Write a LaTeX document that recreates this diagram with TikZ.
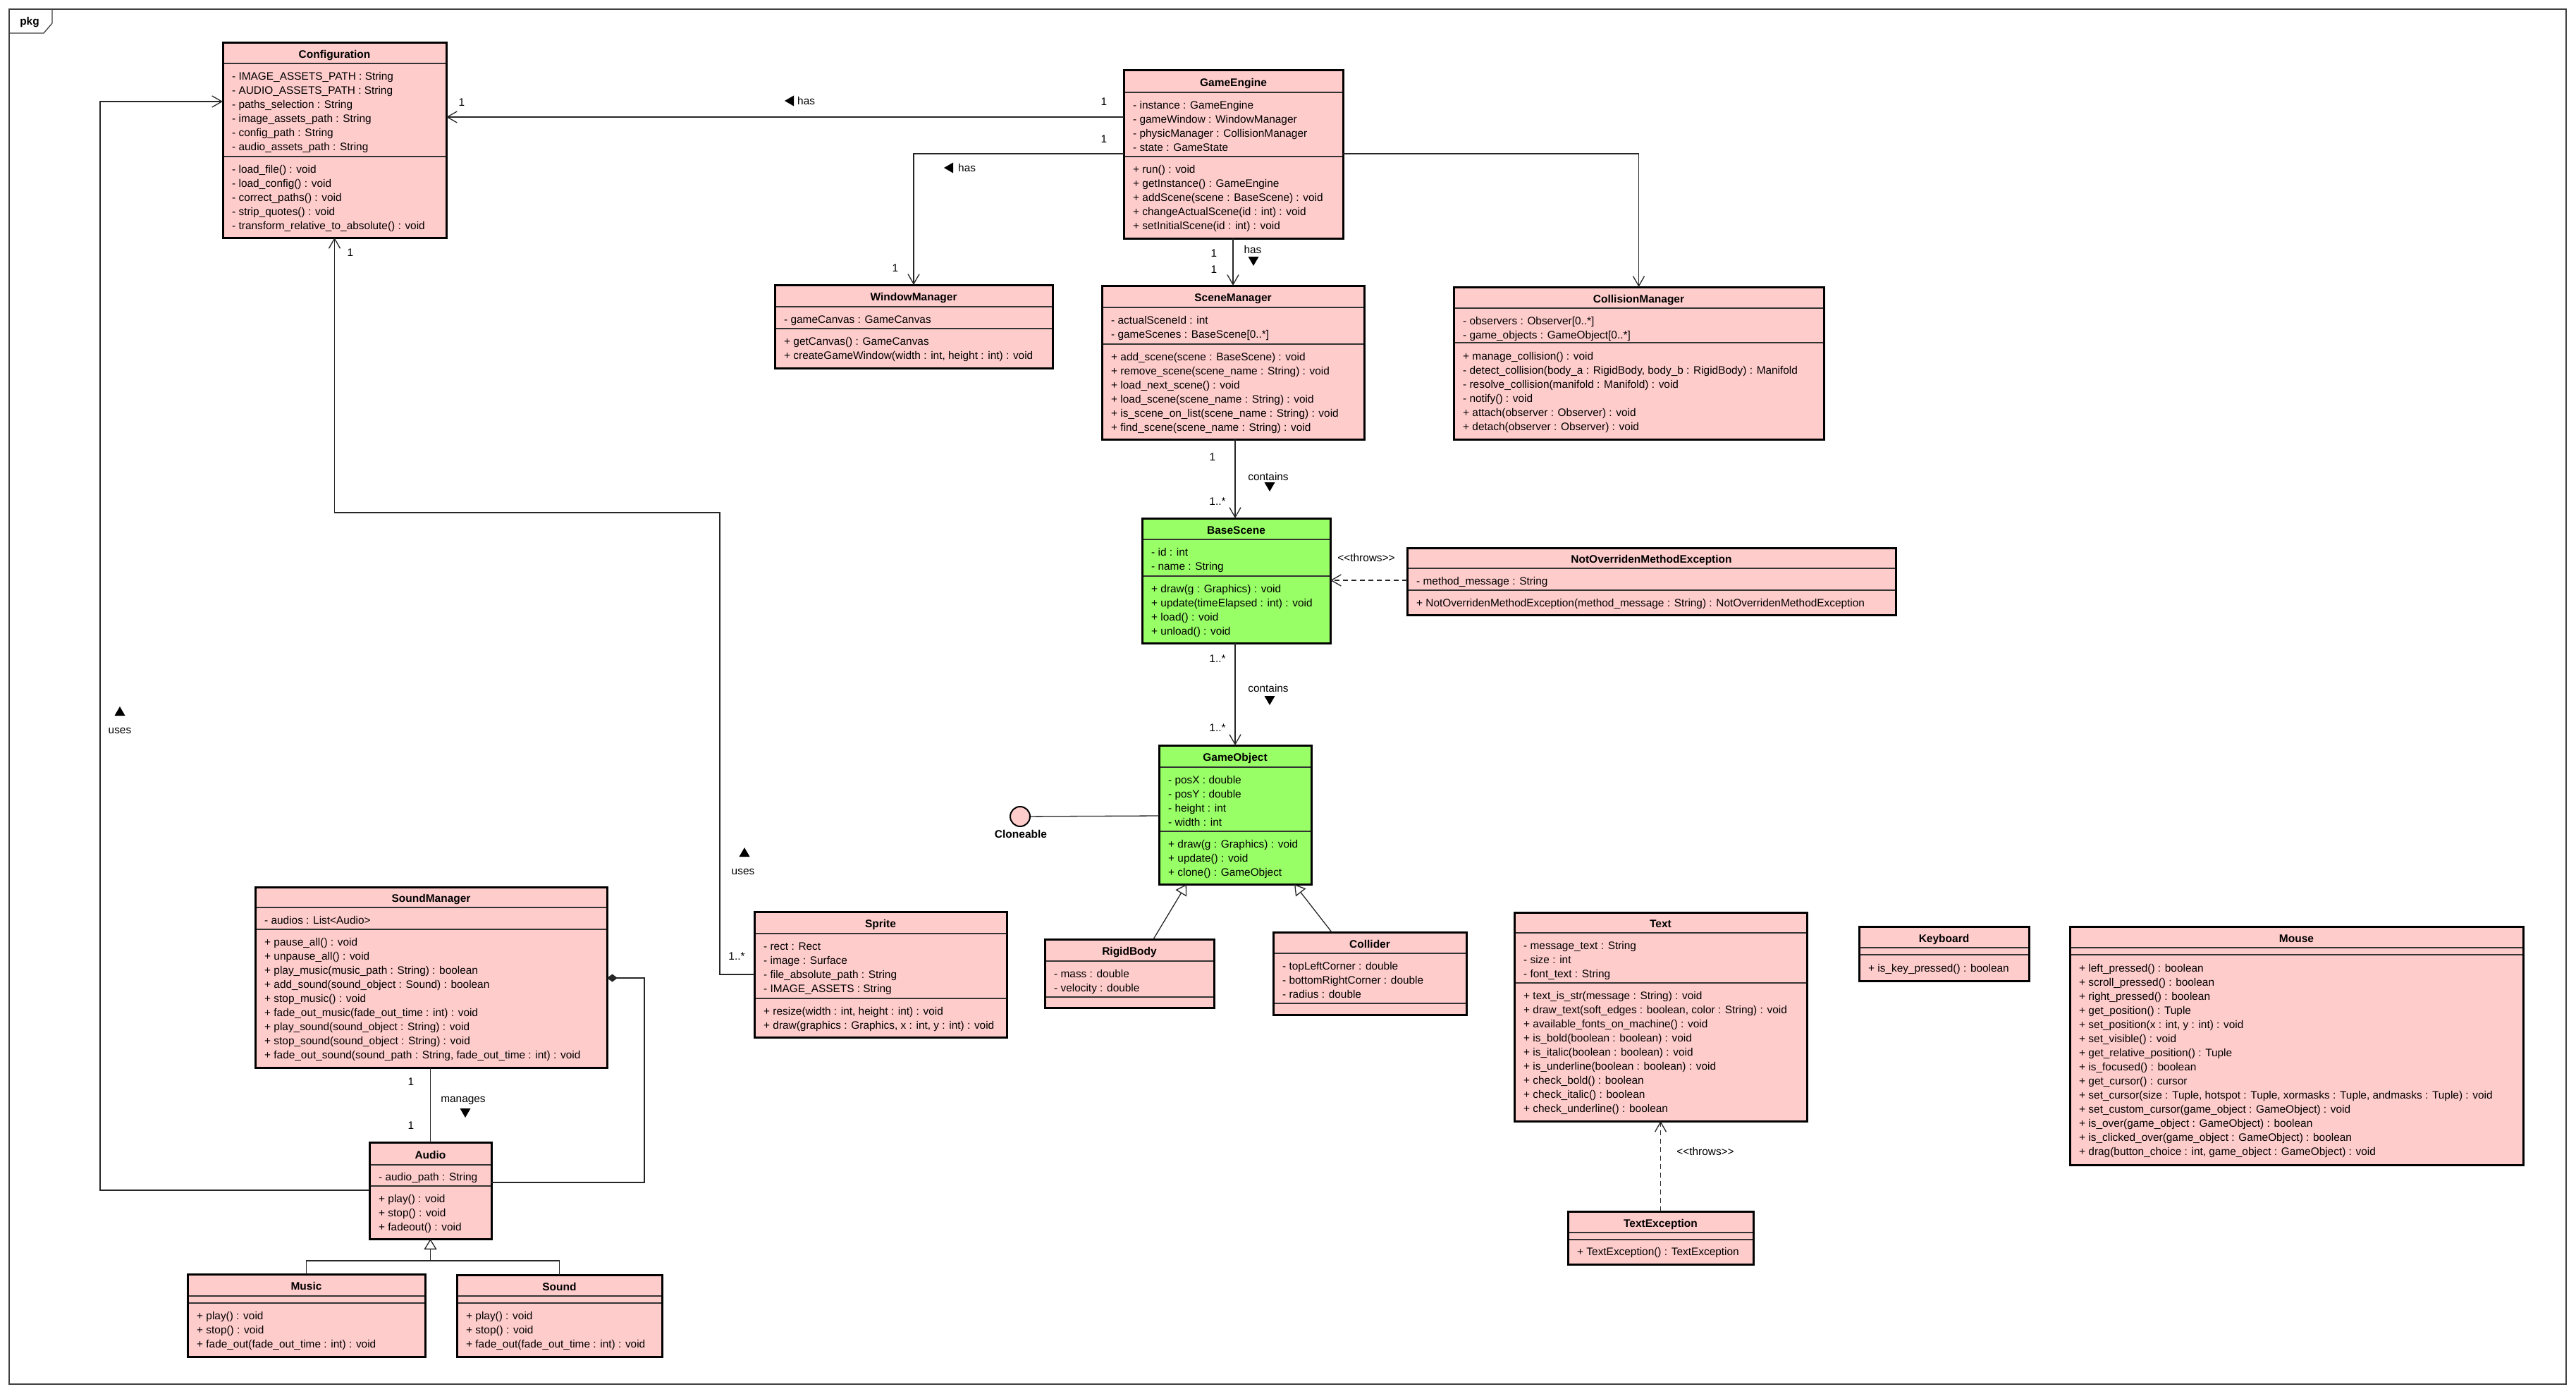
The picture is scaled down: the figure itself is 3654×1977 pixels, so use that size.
\documentclass[tikz,border=0pt]{standalone}
\usepackage{fontspec}
\setmainfont{Liberation Sans}[Ligatures=TeXOff]
\usetikzlibrary{arrows.meta}
\definecolor{pinkfill}{RGB}{255,204,204}
\definecolor{greenfill}{RGB}{153,255,102}
\tikzset{
 classbox/.style={draw=black, line width=3pt, inner sep=0pt, outer sep=0pt},
 compline/.style={draw=black!80, line width=1.2pt},
 titletext/.style={font=\fontsize{15.5}{20}\selectfont\bfseries, inner sep=0pt, anchor=base},
 listtext/.style={font=\fontsize{15.4}{20}\selectfont, inner sep=0pt, anchor=base west},
 lbl/.style={font=\fontsize{15.4}{20}\selectfont, inner sep=0pt},
 conn/.style={draw=black!85, line width=1.3pt},
 assoc/.style={conn, -{Straight Barb[length=14pt,width=16pt]}},
 gen/.style={conn, -{Triangle[length=15pt,width=18pt,fill=white]}},
 comp/.style={conn, {Diamond[length=15pt,width=11pt]}-},
 dep/.style={assoc, dash pattern=on 7pt off 5pt},
}
\newcommand\umlclass[9]{%
  \node[classbox, fill=#8, minimum width={(#4-#2)*1pt}, minimum height={(#5-#3)*1pt}, anchor=north west] (#1) at (#2,#3) {};
  \draw[compline] ({#2+1.5},#6) -- ({#4-1.5},#6);
  \draw[compline] ({#2+1.5},#7) -- ({#4-1.5},#7);
  \node[titletext] (#1-title) at ({(#2+#4)/2},{(#3+#6)/2+7}) {#9};
}
\newcommand\umllines[4]{%
  \foreach \lineitem [count=\li] in {#4} {\node[listtext] (#1-\li) at (#2,{#3+20*(\li-1)}) {\lineitem};}
}
\newcommand\trileft[1]{\fill #1 -- ++(13,-7.5) -- ++(0,15) -- cycle;}
\newcommand\tridown[1]{\fill #1 -- ++(-7.5,-13) -- ++(15,0) -- cycle;}
\newcommand\triup[1]{\fill #1 -- ++(-7.5,13) -- ++(15,0) -- cycle;}
\begin{document}
\begin{tikzpicture}[x=1pt,y=-1pt]
\useasboundingbox (0,0) rectangle (3654,1977);
\fill[white] (0,0) rectangle (3654,1977);
% frame
\draw[line width=1.3pt, draw=black!75] (13,13) rectangle (3640,1963);
\draw[line width=1.3pt, draw=black!75] (13,47) -- (62,47) -- (74,33) -- (74,13);
\node[font=\fontsize{15.4}{20}\selectfont\bfseries, inner sep=0pt, anchor=base] (pkg) at (42,36) {pkg};

% Configuration
\umlclass{cfg}{316}{61}{633}{337}{90}{222}{pinkfill}{Configuration}
\umllines{cfg-a}{329}{113.5}{{- IMAGE\_ASSETS\_PATH : String},{- AUDIO\_ASSETS\_PATH : String},{- paths\_selection : String},{- image\_assets\_path : String},{- config\_path : String},{- audio\_assets\_path : String}}
\umllines{cfg-m}{329}{245.5}{{- load\_file() : void},{- load\_config() : void},{- correct\_paths() : void},{- strip\_quotes() : void},{- transform\_relative\_to\_absolute() : void}}

% GameEngine
\umlclass{ge}{1594}{100}{1905}{338}{131}{222}{pinkfill}{GameEngine}
\umllines{ge-a}{1607}{154.5}{{- instance : GameEngine},{- gameWindow : WindowManager},{- physicManager : CollisionManager},{- state : GameState}}
\umllines{ge-m}{1607}{245.5}{{+ run() : void},{+ getInstance() : GameEngine},{+ addScene(scene : BaseScene) : void},{+ changeActualScene(id : int) : void},{+ setInitialScene(id : int) : void}}

% WindowManager
\umlclass{wm}{1099}{404}{1493}{522}{435}{466}{pinkfill}{WindowManager}
\umllines{wm-a}{1112}{458.5}{{- gameCanvas : GameCanvas}}
\umllines{wm-m}{1112}{489.5}{{+ getCanvas() : GameCanvas},{+ createGameWindow(width : int, height : int) : void}}

% SceneManager
\umlclass{sm}{1563}{405}{1935}{623}{436}{488}{pinkfill}{SceneManager}
\umllines{sm-a}{1576}{459.5}{{- actualSceneId : int},{- gameScenes : BaseScene[0..*]}}
\umllines{sm-m}{1576}{511.5}{{+ add\_scene(scene : BaseScene) : void},{+ remove\_scene(scene\_name : String) : void},{+ load\_next\_scene() : void},{+ load\_scene(scene\_name : String) : void},{+ is\_scene\_on\_list(scene\_name : String) : void},{+ find\_scene(scene\_name : String) : void}}

% CollisionManager
\umlclass{cm}{2062}{407}{2587}{623}{437}{486}{pinkfill}{CollisionManager}
\umllines{cm-a}{2075}{460.5}{{- observers : Observer[0..*]},{- game\_objects : GameObject[0..*]}}
\umllines{cm-m}{2075}{510}{{+ manage\_collision() : void},{- detect\_collision(body\_a : RigidBody, body\_b : RigidBody) : Manifold},{- resolve\_collision(manifold : Manifold) : void},{- notify() : void},{+ attach(observer : Observer) : void},{+ detach(observer : Observer) : void}}

% BaseScene
\umlclass{bs}{1620}{735}{1887}{912}{765}{817}{greenfill}{BaseScene}
\umllines{bs-a}{1633}{788.5}{{- id : int},{- name : String}}
\umllines{bs-m}{1633}{840.5}{{+ draw(g : Graphics) : void},{+ update(timeElapsed : int) : void},{+ load() : void},{+ unload() : void}}

% NotOverridenMethodException
\umlclass{nom}{1996}{777}{2689}{872}{806}{837}{pinkfill}{NotOverridenMethodException}
\umllines{nom-a}{2009}{829.5}{{- method\_message : String}}
\umllines{nom-m}{2009}{860.5}{{+ NotOverridenMethodException(method\_message : String) : NotOverridenMethodException}}

% GameObject
\umlclass{go}{1644}{1057}{1860}{1254}{1088}{1179}{greenfill}{GameObject}
\umllines{go-a}{1657}{1111.5}{{- posX : double},{- posY : double},{- height : int},{- width : int}}
\umllines{go-m}{1657}{1202.5}{{+ draw(g : Graphics) : void},{+ update() : void},{+ clone() : GameObject}}

% Cloneable
\node[circle, draw=black, line width=2pt, fill=pinkfill, minimum size=28pt, inner sep=0pt] (clo) at (1447,1158) {};
\node[titletext] (clo-label) at (1448,1188.5) {Cloneable};
\draw[conn] (clo) -- (go.west |- 0,1157);

% Sprite
\umlclass{sp}{1070}{1293}{1428}{1471}{1324}{1416}{pinkfill}{Sprite}
\umllines{sp-a}{1083}{1347.5}{{- rect : Rect},{- image : Surface},{- file\_absolute\_path : String},{- IMAGE\_ASSETS : String}}
\umllines{sp-m}{1083}{1439.5}{{+ resize(width : int, height : int) : void},{+ draw(graphics : Graphics, x : int, y : int) : void}}

% RigidBody
\umlclass{rb}{1482}{1332}{1722}{1429}{1363}{1414}{pinkfill}{RigidBody}
\umllines{rb-a}{1495}{1386.5}{{- mass : double},{- velocity : double}}

% Collider
\umlclass{col}{1806}{1322}{2080}{1439}{1352}{1423}{pinkfill}{Collider}
\umllines{col-a}{1819}{1375.5}{{- topLeftCorner : double},{- bottomRightCorner : double},{- radius : double}}

% Text
\umlclass{txt}{2148}{1294}{2563}{1590}{1323}{1394}{pinkfill}{Text}
\umllines{txt-a}{2161}{1346.5}{{- message\_text : String},{- size : int},{- font\_text : String}}
\umllines{txt-m}{2161}{1417.5}{{+ text\_is\_str(message : String) : void},{+ draw\_text(soft\_edges : boolean, color : String) : void},{+ available\_fonts\_on\_machine() : void},{+ is\_bold(boolean : boolean) : void},{+ is\_italic(boolean : boolean) : void},{+ is\_underline(boolean : boolean) : void},{+ check\_bold() : boolean},{+ check\_italic() : boolean},{+ check\_underline() : boolean}}

% TextException
\umlclass{tex}{2224}{1718}{2487}{1793}{1748}{1758}{pinkfill}{TextException}
\umllines{tex-m}{2237}{1780.5}{{+ TextException() : TextException}}

% Keyboard
\umlclass{kb}{2637}{1314}{2878}{1391}{1344}{1354}{pinkfill}{Keyboard}
\umllines{kb-m}{2650}{1378}{{+ is\_key\_pressed() : boolean}}

% Mouse
\umlclass{ms}{2936}{1314}{3579}{1652}{1344}{1354}{pinkfill}{Mouse}
\umllines{ms-m}{2949}{1378}{{+ left\_pressed() : boolean},{+ scroll\_pressed() : boolean},{+ right\_pressed() : boolean},{+ get\_position() : Tuple},{+ set\_position(x : int, y : int) : void},{+ set\_visible() : void},{+ get\_relative\_position() : Tuple},{+ is\_focused() : boolean},{+ get\_cursor() : cursor},{+ set\_cursor(size : Tuple, hotspot : Tuple, xormasks : Tuple, andmasks : Tuple) : void},{+ set\_custom\_cursor(game\_object : GameObject) : void},{+ is\_over(game\_object : GameObject) : boolean},{+ is\_clicked\_over(game\_object : GameObject) : boolean},{+ drag(button\_choice : int, game\_object : GameObject) : void}}

% SoundManager
\umlclass{snd}{362}{1258}{861}{1514}{1287}{1318}{pinkfill}{SoundManager}
\umllines{snd-a}{375}{1310.5}{{- audios : List<Audio>}}
\umllines{snd-m}{375}{1341.5}{{+ pause\_all() : void},{+ unpause\_all() : void},{+ play\_music(music\_path : String) : boolean},{+ add\_sound(sound\_object : Sound) : boolean},{+ stop\_music() : void},{+ fade\_out\_music(fade\_out\_time : int) : void},{+ play\_sound(sound\_object : String) : void},{+ stop\_sound(sound\_object : String) : void},{+ fade\_out\_sound(sound\_path : String, fade\_out\_time : int) : void}}

% Audio
\umlclass{au}{524}{1620}{697}{1757}{1652}{1682}{pinkfill}{Audio}
\umllines{au-a}{537}{1674.5}{{- audio\_path : String}}
\umllines{au-m}{537}{1705}{{+ play() : void},{+ stop() : void},{+ fadeout() : void}}

% Music
\umlclass{mu}{266}{1807}{603}{1924}{1838}{1848}{pinkfill}{Music}
\umllines{mu-m}{279}{1871}{{+ play() : void},{+ stop() : void},{+ fade\_out(fade\_out\_time : int) : void}}

% Sound
\umlclass{so}{648}{1808}{939}{1924}{1838}{1848}{pinkfill}{Sound}
\umllines{so-m}{661}{1871}{{+ play() : void},{+ stop() : void},{+ fade\_out(fade\_out\_time : int) : void}}

% ---------- connectors ----------
\draw[assoc] (ge.west |- 0,166) -- (cfg.east |- 0,166);
\node[lbl] (m-ge-cfg-a) at (1566,144) {1};
\node[lbl] (m-ge-cfg-b) at (655,145) {1};
\node[lbl, anchor=west] (has-a) at (1131,143) {has};
\trileft{(1113,143)}

\draw[assoc] (ge.west |- 0,218) -| (wm.north);
\node[lbl] (m-ge-wm-a) at (1566,197) {1};
\node[lbl] (m-ge-wm-b) at (1270,380) {1};
\node[lbl, anchor=west] (has-b) at (1359,238) {has};
\trileft{(1339,238)}

\draw[assoc] (ge.east |- 0,218) -| (cm.north);

\draw[assoc] (sm.north |- ge.south) -- (sm.north);
\node[lbl] (m-ge-sm-a) at (1722,359) {1};
\node[lbl] (m-ge-sm-b) at (1722,382) {1};
\node[lbl] (has-c) at (1777,354) {has};
\tridown{(1778,377)}

\draw[assoc] (1752,0 |- sm.south) -- (1752,0 |- bs.north);
\node[lbl] (m-sm-bs-a) at (1720,648) {1};
\node[lbl] (contains-a) at (1799,676) {contains};
\tridown{(1801,697)}
\node[lbl] (m-sm-bs-b) at (1727,711) {1..*};

\draw[assoc] (go.north |- bs.south) -- (go.north);
\node[lbl] (m-bs-go-a) at (1727,934) {1..*};
\node[lbl] (contains-b) at (1799,976) {contains};
\tridown{(1801,1000)}
\node[lbl] (m-bs-go-b) at (1727,1032) {1..*};

\draw[dep] (nom.west |- 0,823) -- (bs.east |- 0,823);
\node[lbl] (throws-a) at (1938,791) {<<throws>>};

\draw[dep] (tex.north) -- (txt.south);
\node[lbl] (throws-b) at (2419,1633) {<<throws>>};

\draw[gen] (rb.north -| 1636,0) -- (go.south -| 1683,0);
\draw[gen] (col.north -| 1889,0) -- (go.south -| 1836,0);

\draw[assoc] (sp.west |- 0,1382) -| (1021,727) -| (cfg.south);
\node[lbl] (m-sp-a) at (1045,1356) {1..*};
\triup{(1056,1202)}
\node[lbl] (uses-a) at (1054,1236) {uses};
\node[lbl] (m-sp-b) at (497,358) {1};

\draw[assoc] (au.west |- 0,1688) -| (142,144) -- (cfg.west |- 0,144);
\triup{(170,1002)}
\node[lbl] (uses-b) at (170,1036) {uses};

\draw[comp] (snd.east |- 0,1387) -| (914,1677) -- (au.east |- 0,1677);

\draw[conn] (au.north |- snd.south) -- (au.north);
\node[lbl] (m-snd-a) at (583,1534) {1};
\node[lbl] (manages) at (657,1561) {manages};
\tridown{(660,1585)}
\node[lbl] (m-snd-b) at (583,1596) {1};

\draw[conn] (mu.north) |- (au.south |- 0,1788);
\draw[conn] (so.north) |- (au.south |- 0,1788);
\draw[gen] (au.south |- 0,1788) -- (au.south);
\end{tikzpicture}
\end{document}
